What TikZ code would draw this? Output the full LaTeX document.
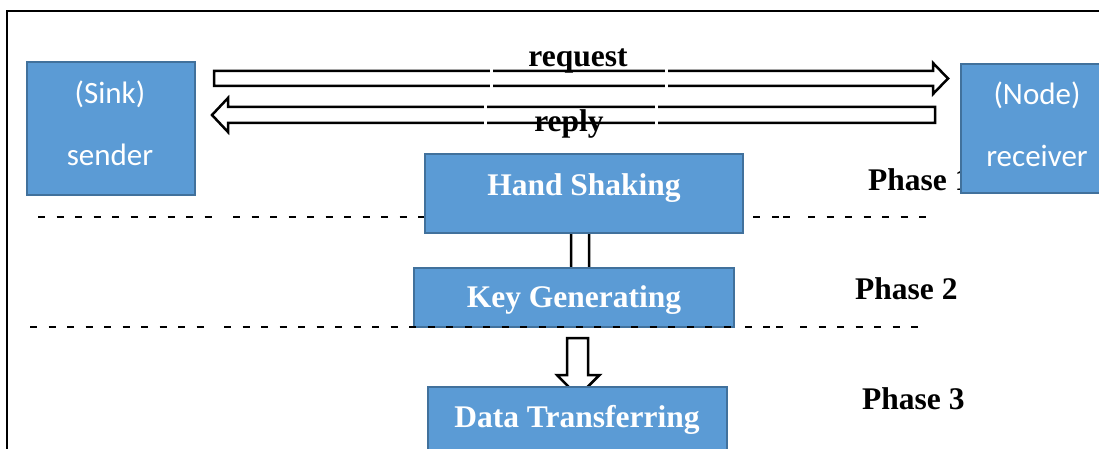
\documentclass[tikz,border=0pt]{standalone}
\usepackage{fontspec}
\setmainfont{Liberation Serif}
\newfontfamily\calfont{Carlito}
\usetikzlibrary{calc}
\definecolor{boxblue}{HTML}{5B9BD5}
\definecolor{boxedge}{HTML}{41719C}
\begin{document}
\begin{tikzpicture}[x=1pt,y=-1pt,
  box/.style={rectangle, fill=boxblue, draw=boxedge, line width=2pt, inner sep=0pt, anchor=north west},
  serlabel/.style={inner sep=0pt, anchor=base, font=\fontsize{31.5}{36}\selectfont\bfseries},
  boxlabel/.style={serlabel, text=white},
  callabel/.style={inner sep=0pt, anchor=base, text=white, font=\calfont\fontsize{31}{36}\selectfont},
  blockarrow/.style={draw=black, fill=white, line width=2.5pt, line join=miter},
  gapline/.style={draw=white, line width=3pt},
  sepline/.style={draw=black, line width=2pt},
  sepdash/.style={sepline, dash pattern=on 7pt off 11.5pt}]
\useasboundingbox (0,0) rectangle (1099,449);
\clip (0,0) rectangle (1099,449);
\fill[white] (0,0) rectangle (1099,449);
% outer frame
\draw[line width=2pt] (7,470) -- (7,11) -- (1110,11);

% request / reply block arrows
\coordinate (reqtail) at (214,78.5);
\coordinate (reqtip) at (948,78.5);
\draw[blockarrow] ($(reqtail)+(0,-7.5)$) -- (933,71) -- (933,63) -- (reqtip) -- (933,94) -- (933,86) -- ($(reqtail)+(0,7.5)$) -- cycle;
\coordinate (reptail) at (935,115);
\coordinate (reptip) at (212,115);
\draw[blockarrow] ($(reptail)+(0,-8)$) -- (228,107) -- (228,98) -- (reptip) -- (228,132) -- (228,123) -- ($(reptail)+(0,8)$) -- cycle;
\draw[gapline] (491,68) -- (491,89);
\draw[gapline] (666,68) -- (666,89);
\draw[gapline] (485,104) -- (485,126);
\draw[gapline] (656,104) -- (656,126);

% labels of the arrows
\node[serlabel] (request) at (578,66.5) {request};
\node[serlabel] (reply) at (569,132) {reply};

% separator line 1
\draw[sepdash] (38,217) -- (218,217);
\draw[sepdash] (233,217) -- (430,217);
\draw[sepline] (753,217) -- (760,217);
\draw[sepline] (772,217) -- (779,217);
\draw[sepline] (783,217) -- (790,217);
\draw[sepdash] (808,217) -- (932,217);

% Phase 1 (partly hidden by receiver box)
\node[serlabel, anchor=base west] (ph1) at (868,190) {Phase 1};

% small down arrows
\draw[blockarrow] (571,233) -- (571,285) -- (562,285) -- (580,300) -- (598,285) -- (589,285) -- (589,233);
\draw[blockarrow] (567,338) -- (567,375) -- (557,375) -- (578,396.5) -- (599.5,375) -- (588,375) -- (588,338) -- cycle;

% boxes
\node[box, minimum width=168pt, minimum height=133pt] (sender) at (26,61) {};
\node[box, minimum width=154pt, minimum height=129pt] (receiver) at (960,63) {};
\node[box, minimum width=318pt, minimum height=79pt] (hand) at (424,153) {};
\node[box, minimum width=320pt, minimum height=59pt] (key) at (413,267) {};
\node[box, minimum width=299pt, minimum height=80pt] (data) at (427,386) {};

% box texts
\node[callabel] (sinkt) at (110,104) {(Sink)};
\node[callabel] (sendert) at (110,166) {sender};
\node[callabel] (nodet) at (1037,105) {(Node)};
\node[callabel] (receivert) at (1037,167) {receiver};
\node[boxlabel] (handt) at (584,195) {Hand Shaking};
\node[boxlabel] (keyt) at (574,307) {Key Generating};
\node[boxlabel] (datat) at (577,427) {Data Transferring};

% separator line 2
\draw[sepdash] (30,327) -- (212,327);
\draw[sepdash] (224,327) -- (740,327);
\draw[sepline] (745,327) -- (752,327);
\draw[sepline] (763,327) -- (770,327);
\draw[sepline] (776,327) -- (783,327);
\draw[sepdash] (800,327) -- (926,327);

% phase labels
\node[serlabel, anchor=base west] (ph2) at (855,299) {Phase 2};
\node[serlabel, anchor=base west] (ph3) at (862,409) {Phase 3};
\end{tikzpicture}
\end{document}
